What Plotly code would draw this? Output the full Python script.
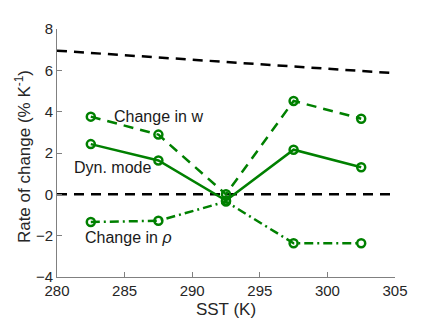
import plotly.graph_objects as go

sst = [282.5, 287.5, 292.5, 297.5, 302.5]
change_w = [3.76, 2.89, 0.0, 4.52, 3.66]
dyn_mode = [2.43, 1.64, -0.3, 2.16, 1.31]
change_rho = [-1.34, -1.28, -0.35, -2.37, -2.37]
cc_x = [280, 305]
cc_y = [6.95, 5.86]
zero_x = [280, 305]
zero_y = [0, 0]

green = "rgb(0,128,0)"
fig = go.Figure()
fig.add_trace(go.Scatter(x=cc_x, y=cc_y, mode="lines",
                         line=dict(color="black", width=2.5, dash="10px,7px")))
fig.add_trace(go.Scatter(x=zero_x, y=zero_y, mode="lines",
                         line=dict(color="black", width=2.5, dash="10px,7px")))
mk = dict(symbol="circle-open", size=8, color=green, line=dict(width=2.5, color=green))
fig.add_trace(go.Scatter(x=sst, y=change_w, mode="lines+markers",
                         line=dict(color=green, width=2.5, dash="10px,7px"), marker=mk))
fig.add_trace(go.Scatter(x=sst, y=dyn_mode, mode="lines+markers",
                         line=dict(color=green, width=2.5), marker=mk))
fig.add_trace(go.Scatter(x=sst, y=change_rho, mode="lines+markers",
                         line=dict(color=green, width=2.5, dash="9px,4px,2px,4px"), marker=mk))

font = "Liberation Sans, Arial, sans-serif"
for txt, x, y in [("Change in w", 284.05, 3.76), ("Dyn. mode", 281.1, 1.29),
                  ("Change in <i>ρ</i>", 281.9, -2.1)]:
    fig.add_annotation(x=x, y=y, xref="x", yref="y", text=txt, showarrow=False,
                       xanchor="left", yanchor="middle",
                       font=dict(family=font, size=16, color="#1a1a1a"))

fig.add_annotation(x=-0.101, y=0.487, xref="paper", yref="paper",
                   text="Rate of change (% K<sup>-1</sup>)", textangle=-90,
                   showarrow=False, xanchor="center", yanchor="middle",
                   font=dict(family=font, size=17, color="#262626"))

axcommon = dict(showgrid=False, zeroline=False, showline=True, linecolor="#808080",
                linewidth=1, ticks="inside", ticklen=5, tickcolor="#808080",
                tickfont=dict(family=font, size=15, color="#262626"), mirror=False)
fig.update_xaxes(range=[280, 305], tickvals=[280, 285, 290, 295, 300, 305],
                 title=dict(text="SST (K)", font=dict(family=font, size=17, color="#262626"), standoff=5),
                 **axcommon)
fig.update_yaxes(range=[-4, 8], tickvals=[-4, -2, 0, 2, 4, 6, 8], **axcommon)
fig.update_layout(width=429, height=321, showlegend=False,
                  margin=dict(l=49, r=42, t=16, b=52),
                  paper_bgcolor="white", plot_bgcolor="white")
fig.write_html("out.html")
